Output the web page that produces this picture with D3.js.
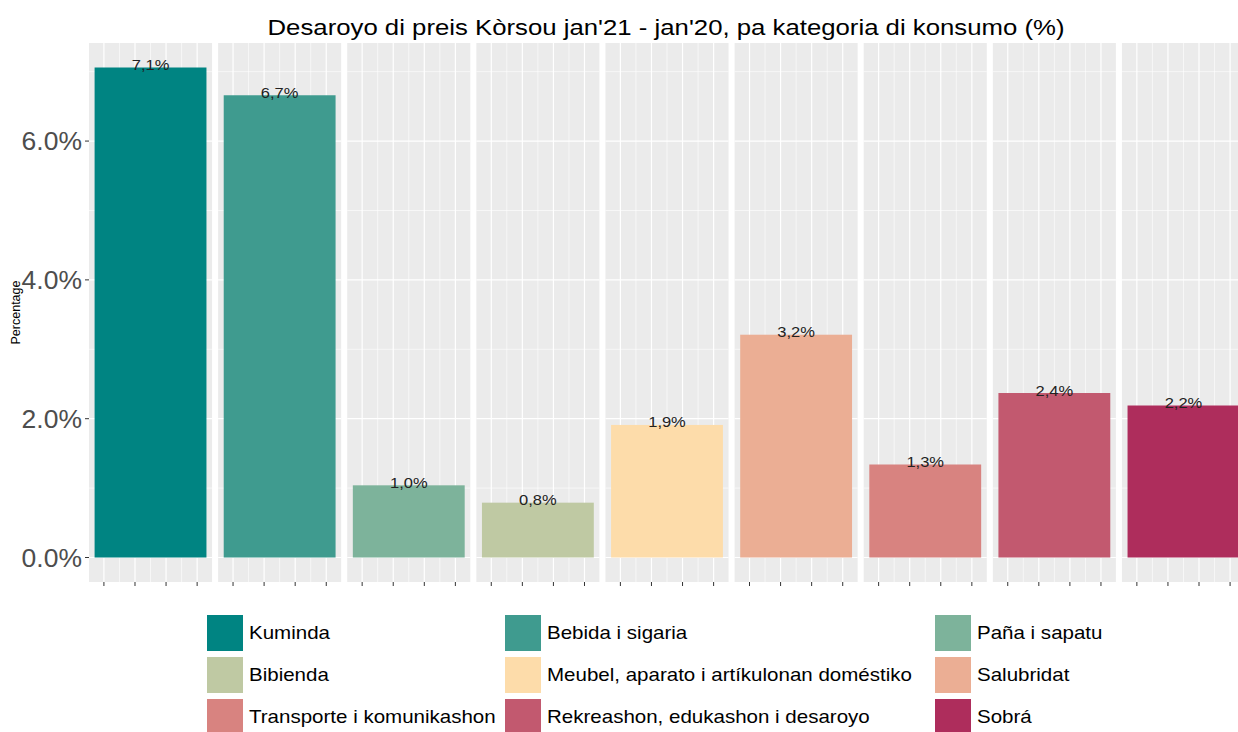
<!DOCTYPE html>
<html><head><meta charset="utf-8">
<script src="https://cdn.jsdelivr.net/npm/d3@7"></script>
<style>body{margin:0;background:#fff}svg{display:block;font-family:"Liberation Sans",Arial,sans-serif}</style>
</head><body><svg id="c" width="1238" height="732"></svg>
<script>
const categories = ["Kuminda","Bebida i sigaria","Paña i sapatu","Bibienda","Meubel, aparato i artíkulonan doméstiko","Salubridat","Transporte i komunikashon","Rekreashon, edukashon i desaroyo","Sobrá"];
const values = [7.06, 6.66, 1.04, 0.79, 1.91, 3.21, 1.34, 2.37, 2.19];
const colors = ["#008482","#3f9b8f","#7db39b","#bfc9a3","#fddcaa","#ebae94","#d88380","#c2596f","#ae2d5c"];
const yTicks = [0, 2, 4, 6];
const yMinor = [1, 3, 5, 7];
const title = "Desaroyo di preis Kòrsou jan'21 - jan'20, pa kategoria di konsumo (%)";

const svg = d3.select("#c");
const pLeft = 89, pRight = 1245, pTop = 43, pBottom = 582;
const maxV = d3.max(values);
const y = d3.scaleLinear().domain([-0.05*maxV, maxV*1.05]).range([pBottom, pTop]);
const panel = d3.scaleBand().domain(categories).range([pLeft, pRight]).paddingInner(0.047);
const pw = panel.bandwidth();
const x = d3.scaleLinear().domain([0.505, 1.495]).range([0, pw]);
const xMajor = [0.625, 0.875, 1.125, 1.375];
const xMinor = [0.75, 1.0, 1.25];
const fmt = v => v.toFixed(1).replace(".", ",") + "%";

// text helper with slight horizontal stretch (reference glyphs are wide)
function txt(parent, tx, ty, s, size, sx, anchor, fill, dy) {
  return parent.append("text").attr("transform", `translate(${tx},${ty}) scale(${sx},1)`)
    .attr("text-anchor", anchor).attr("font-size", size).attr("fill", fill)
    .attr("dy", dy || 0).text(s);
}

txt(svg, (pLeft+pRight)/2 - 1, 35, title, 23, 1.12, "middle", "#000");

categories.forEach((c, i) => {
  const g = svg.append("g").attr("transform", `translate(${panel(c)},0)`);
  g.append("rect").attr("x",0).attr("y",pTop).attr("width",pw).attr("height",pBottom-pTop).attr("fill","#ebebeb");
  yMinor.forEach(t => g.append("line").attr("x1",0).attr("x2",pw).attr("y1",y(t)).attr("y2",y(t)).attr("stroke","#fff").attr("stroke-width",0.6));
  xMinor.forEach(t => g.append("line").attr("x1",x(t)).attr("x2",x(t)).attr("y1",pTop).attr("y2",pBottom).attr("stroke","#fff").attr("stroke-width",0.6));
  yTicks.forEach(t => g.append("line").attr("x1",0).attr("x2",pw).attr("y1",y(t)).attr("y2",y(t)).attr("stroke","#fff").attr("stroke-width",1.2));
  xMajor.forEach(t => g.append("line").attr("x1",x(t)).attr("x2",x(t)).attr("y1",pTop).attr("y2",pBottom).attr("stroke","#fff").attr("stroke-width",1.2));
  xMajor.forEach(t => g.append("line").attr("x1",x(t)).attr("x2",x(t)).attr("y1",pBottom).attr("y2",pBottom+4).attr("stroke","#333").attr("stroke-width",1));
  g.append("rect").attr("x",x(0.55)).attr("width",x(1.45)-x(0.55))
    .attr("y",y(values[i])).attr("height",y(0)-y(values[i])).attr("fill",colors[i]);
  txt(g, x(1), y(values[i]) + 2.5, fmt(values[i]), 15, 1.1, "middle", "#222");
});

const ya = svg.append("g");
yTicks.forEach(t => {
  ya.append("line").attr("x1",pLeft-4).attr("x2",pLeft).attr("y1",y(t)).attr("y2",y(t)).attr("stroke","#333");
  txt(ya, pLeft-7, y(t), t.toFixed(1)+"%", 25, 1.06, "end", "#4d4d4d", "0.36em");
});
svg.append("text").attr("transform",`translate(20,${(pTop+pBottom)/2}) rotate(-90)`).attr("text-anchor","middle")
  .attr("font-size",12.5).attr("fill","#000").text("Percentage");

const colX = [207, 505, 935];
const rowY = [615, 657, 699];
categories.forEach((c, i) => {
  const cx = colX[i % 3], cy = rowY[Math.floor(i / 3)];
  svg.append("rect").attr("x",cx).attr("y",cy).attr("width",36).attr("height",36).attr("fill",colors[i]);
  txt(svg, cx+42, cy+18, c, 18, 1.14, "start", "#000", "0.36em");
});
</script></body></html>
